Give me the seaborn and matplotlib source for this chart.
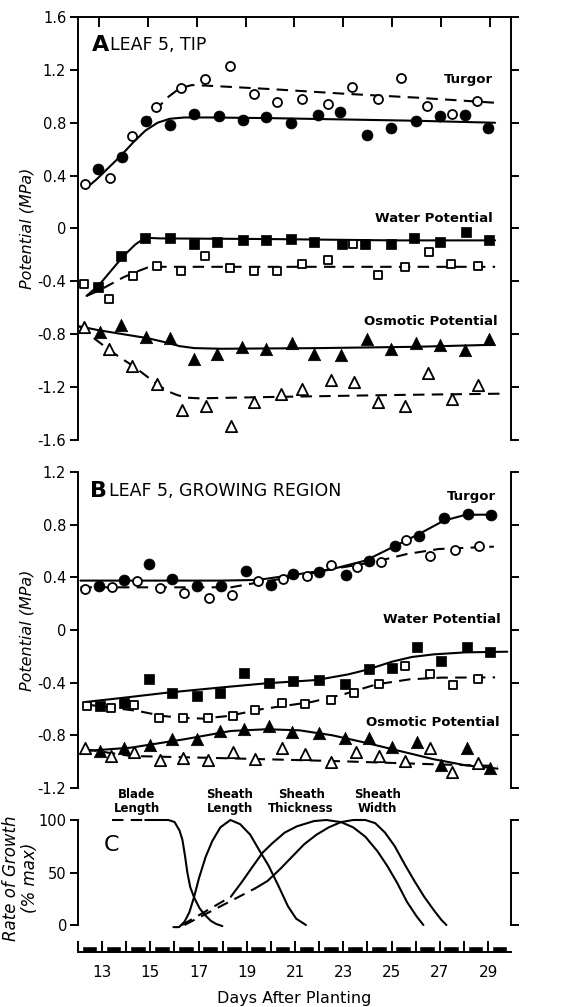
import matplotlib
matplotlib.use('Agg')
import matplotlib.pyplot as plt
from matplotlib.ticker import FixedLocator
import seaborn as sns

# ---------------- Panel A : leaf 5, tip ----------------
a_turgor_fill_x = [12.95, 13.95, 14.95, 15.9, 16.9, 17.9, 18.9, 19.85, 20.85, 21.95, 22.85, 23.95, 24.95, 25.95, 26.95, 27.95, 28.9]
a_turgor_fill_y = [0.45, 0.54, 0.81, 0.78, 0.87, 0.85, 0.82, 0.84, 0.80, 0.86, 0.88, 0.71, 0.76, 0.81, 0.85, 0.86, 0.76]
a_turgor_open_x = [12.45, 13.45, 14.35, 15.35, 16.35, 17.35, 18.35, 19.35, 20.3, 21.3, 22.35, 23.35, 24.4, 25.35, 26.4, 27.45, 28.45]
a_turgor_open_y = [0.34, 0.38, 0.70, 0.92, 1.06, 1.13, 1.23, 1.02, 0.96, 0.98, 0.945, 1.07, 0.98, 1.14, 0.93, 0.865, 0.965]

a_water_fill_x = [12.95, 13.9, 14.9, 15.9, 16.9, 17.85, 18.9, 19.85, 20.85, 21.8, 22.95, 23.9, 24.95, 25.9, 26.95, 28.0, 28.95]
a_water_fill_y = [-0.44, -0.21, -0.07, -0.07, -0.115, -0.10, -0.09, -0.09, -0.08, -0.10, -0.115, -0.115, -0.115, -0.075, -0.10, -0.03, -0.09]
a_water_open_x = [12.4, 13.4, 14.4, 15.4, 16.35, 17.35, 18.35, 19.35, 20.3, 21.3, 22.35, 23.4, 24.4, 25.5, 26.5, 27.4, 28.5]
a_water_open_y = [-0.42, -0.53, -0.36, -0.285, -0.32, -0.21, -0.30, -0.32, -0.32, -0.27, -0.235, -0.115, -0.355, -0.295, -0.18, -0.27, -0.285]

a_osm_fill_x = [13.05, 13.9, 14.95, 15.9, 16.9, 17.85, 18.85, 19.85, 20.9, 21.8, 22.9, 23.95, 24.95, 25.95, 26.95, 27.95, 28.95]
a_osm_fill_y = [-0.78, -0.73, -0.82, -0.83, -0.985, -0.95, -0.90, -0.91, -0.87, -0.95, -0.96, -0.835, -0.91, -0.865, -0.88, -0.92, -0.835]
a_osm_open_x = [12.4, 13.4, 14.35, 15.4, 16.4, 17.4, 18.4, 19.35, 20.45, 21.3, 22.5, 23.45, 24.4, 25.5, 26.45, 27.45, 28.5]
a_osm_open_y = [-0.745, -0.915, -1.04, -1.18, -1.375, -1.34, -1.495, -1.31, -1.25, -1.215, -1.15, -1.16, -1.31, -1.34, -1.09, -1.29, -1.185]

# fitted curves, panel A
a_turgor_fit_x = [12.45, 12.9, 13.4, 13.9, 14.4, 14.9, 15.4, 15.9, 16.5, 17.5, 20.0, 23.0, 26.0, 29.2]
a_turgor_fit_y = [0.30, 0.37, 0.46, 0.55, 0.65, 0.74, 0.80, 0.83, 0.84, 0.84, 0.835, 0.825, 0.815, 0.80]
a_turgor_fit2_x = [14.8, 15.3, 15.8, 16.3, 16.8, 17.5, 20.0, 23.0, 26.0, 29.3]
a_turgor_fit2_y = [0.78, 0.89, 0.99, 1.06, 1.085, 1.08, 1.055, 1.02, 0.99, 0.95]
a_water_fit_x = [12.5, 13.0, 13.5, 14.0, 14.5, 14.9, 15.5, 20.0, 25.0, 29.2]
a_water_fit_y = [-0.51, -0.43, -0.32, -0.21, -0.12, -0.07, -0.075, -0.08, -0.09, -0.09]
a_water_fit2_x = [12.5, 13.0, 13.5, 14.0, 14.5, 15.0, 15.5, 20.0, 25.0, 29.2]
a_water_fit2_y = [-0.51, -0.47, -0.42, -0.37, -0.33, -0.295, -0.29, -0.29, -0.29, -0.29]
a_osm_fit_x = [12.2, 13.0, 14.0, 15.0, 15.7, 16.3, 16.9, 18.0, 22.0, 26.0, 29.1]
a_osm_fit_y = [-0.74, -0.77, -0.80, -0.83, -0.86, -0.89, -0.905, -0.91, -0.905, -0.895, -0.88]
a_osm_fit2_x = [12.2, 12.8, 13.4, 13.9, 14.4, 14.9, 15.4, 15.8, 16.2, 16.6, 17.1, 20.0, 25.0, 29.4]
a_osm_fit2_y = [-0.74, -0.83, -0.915, -0.98, -1.04, -1.11, -1.18, -1.23, -1.26, -1.28, -1.285, -1.275, -1.26, -1.25]

# ---------------- Panel B : leaf 5, growing region ----------------
b_turgor_fill_x = [13.0, 14.05, 15.05, 16.0, 17.0, 18.0, 19.0, 20.05, 20.95, 22.0, 23.1, 24.05, 25.1, 26.1, 27.1, 28.1, 29.05]
b_turgor_fill_y = [0.337, 0.38, 0.50, 0.387, 0.337, 0.337, 0.45, 0.344, 0.425, 0.438, 0.418, 0.527, 0.64, 0.716, 0.85, 0.88, 0.876]
b_turgor_open_x = [12.45, 13.55, 14.55, 15.5, 16.5, 17.5, 18.45, 19.5, 20.55, 21.5, 22.5, 23.55, 24.55, 25.55, 26.55, 27.55, 28.55]
b_turgor_open_y = [0.315, 0.33, 0.375, 0.32, 0.28, 0.245, 0.265, 0.375, 0.39, 0.41, 0.49, 0.475, 0.515, 0.68, 0.565, 0.61, 0.64]

b_water_fill_x = [13.05, 14.05, 15.05, 16.0, 17.0, 17.95, 18.95, 19.95, 20.95, 22.0, 23.05, 24.05, 25.0, 26.0, 27.0, 28.05, 29.0]
b_water_fill_y = [-0.577, -0.552, -0.37, -0.476, -0.50, -0.476, -0.33, -0.40, -0.39, -0.382, -0.41, -0.30, -0.286, -0.13, -0.233, -0.13, -0.17]
b_water_open_x = [12.5, 13.5, 14.45, 15.45, 16.45, 17.45, 18.5, 19.4, 20.5, 21.45, 22.5, 23.45, 24.45, 25.5, 26.55, 27.5, 28.5]
b_water_open_y = [-0.577, -0.59, -0.572, -0.666, -0.666, -0.666, -0.653, -0.608, -0.552, -0.565, -0.532, -0.476, -0.41, -0.275, -0.337, -0.42, -0.375]

b_osm_fill_x = [13.05, 14.05, 15.1, 16.0, 17.0, 17.95, 18.95, 19.95, 20.9, 22.0, 23.05, 24.05, 25.0, 26.0, 27.0, 28.05, 29.0]
b_osm_fill_y = [-0.92, -0.90, -0.87, -0.83, -0.825, -0.767, -0.755, -0.73, -0.775, -0.785, -0.818, -0.818, -0.886, -0.85, -1.028, -0.894, -1.045]
b_osm_open_x = [12.45, 13.5, 14.45, 15.5, 16.45, 17.45, 18.5, 19.4, 20.5, 21.45, 22.5, 23.5, 24.45, 25.5, 26.55, 27.45, 28.5]
b_osm_open_y = [-0.90, -0.957, -0.93, -0.99, -0.975, -0.99, -0.927, -0.98, -0.90, -0.94, -1.0, -0.93, -0.96, -0.995, -0.894, -1.08, -1.01]

# fitted curves, panel B
b_turgor_fit_x = [12.25, 14.0, 16.0, 18.0, 19.5, 21.2, 22.55, 23.9, 25.0, 26.1, 27.1, 28.0, 29.15]
b_turgor_fit_y = [0.375, 0.375, 0.375, 0.375, 0.38, 0.425, 0.463, 0.527, 0.628, 0.73, 0.83, 0.875, 0.876]
b_turgor_fit2_x = [12.25, 14.0, 16.0, 18.4, 19.5, 21.2, 22.55, 24.2, 25.6, 26.9, 29.15]
b_turgor_fit2_y = [0.324, 0.324, 0.324, 0.324, 0.36, 0.41, 0.463, 0.514, 0.577, 0.615, 0.633]
b_water_fit_x = [12.45, 14.0, 15.8, 17.8, 19.85, 21.9, 23.2, 24.0, 25.0, 25.8, 26.7, 28.0, 29.7]
b_water_fit_y = [-0.547, -0.515, -0.476, -0.44, -0.405, -0.38, -0.337, -0.30, -0.24, -0.205, -0.185, -0.17, -0.165]
b_water_fit2_x = [12.45, 13.5, 14.6, 15.6, 16.5, 17.25, 18.3, 19.7, 21.7, 23.0, 24.35, 25.7, 27.0, 29.2]
b_water_fit2_y = [-0.565, -0.59, -0.615, -0.653, -0.668, -0.673, -0.653, -0.60, -0.547, -0.489, -0.413, -0.375, -0.362, -0.36]
b_osm_fit_x = [12.45, 14.3, 16.5, 18.4, 19.85, 21.2, 22.55, 23.9, 25.3, 26.7, 28.0, 29.3]
b_osm_fit_y = [-0.919, -0.894, -0.83, -0.767, -0.754, -0.762, -0.80, -0.856, -0.919, -0.982, -1.028, -1.053]
b_osm_fit2_x = [12.45, 14.3, 18.4, 22.55, 26.7, 29.3]
b_osm_fit2_y = [-0.906, -0.957, -0.975, -0.995, -1.02, -1.033]

# ---------------- Panel C : rate of growth (% max) ----------------
blade_dash_x = [13.55, 14.9]
blade_dash_y = [100, 100]
blade_x = [14.9, 15.85, 16.1, 16.3, 16.42, 16.53, 16.62, 16.74, 16.9, 17.12, 17.32, 17.58, 17.8, 18.05]
blade_y = [100, 100, 98, 90, 81, 65, 50, 36, 26, 16, 10, 4, 1, -1]
sheath_len_x = [16.05, 16.28, 16.5, 16.7, 16.9, 17.1, 17.37, 17.64, 17.97, 18.38, 18.78, 19.19, 19.59, 19.93, 20.33, 20.73, 21.07, 21.47]
sheath_len_y = [-2, -2, 3, 12, 27, 45, 65, 80, 93, 100, 96, 86, 70, 57, 38, 18, 6, 0]
sheath_thick_dash_x = [16.4, 18.4]
sheath_thick_dash_y = [0, 27]
sheath_thick_x = [18.4, 18.88, 19.3, 19.7, 20.1, 20.6, 21.1, 21.8, 22.3, 22.9, 23.4, 23.9, 24.4, 24.8, 25.2, 25.6, 26.0, 26.27]
sheath_thick_y = [27, 42, 56, 69, 78, 88, 94, 99, 100, 98, 93, 84, 70, 56, 40, 22, 8, 0]
sheath_width_dash_x = [16.5, 19.4]
sheath_width_dash_y = [0, 35]
sheath_width_x = [19.4, 19.9, 20.4, 20.9, 21.4, 21.9, 22.4, 22.9, 23.4, 23.9, 24.3, 24.7, 25.1, 25.5, 25.9, 26.3, 26.7, 27.0, 27.21]
sheath_width_y = [35, 42, 53, 65, 77, 86, 93, 98, 100, 100, 97, 88, 75, 58, 42, 27, 14, 5, 0]

growth_labels = ['Blade\nLength', 'Sheath\nLength', 'Sheath\nThickness', 'Sheath\nWidth']
growth_label_x = [14.55, 18.35, 21.27, 24.38]

day_ticks = list(range(12, 30))
day_labels = [str(d) if d % 2 == 1 else '' for d in day_ticks]
night_days = list(range(12, 30))

# ---------------- style ----------------
sns.set_style('white')
plt.rcParams['font.family'] = ['DejaVu Sans']
plt.rcParams['axes.linewidth'] = 1.4
plt.rcParams['axes.edgecolor'] = 'black'
plt.rcParams['text.color'] = 'black'
plt.rcParams['axes.labelcolor'] = 'black'
plt.rcParams['xtick.color'] = 'black'
plt.rcParams['ytick.color'] = 'black'
plt.rcParams['xtick.major.width'] = 1.4
plt.rcParams['ytick.major.width'] = 1.4

fig = plt.figure(figsize=(5.66, 10.07), dpi=100)
left, width = 0.1378, 0.765
ax_a = fig.add_axes([left, 0.5631, width, 0.4200])
ax_b = fig.add_axes([left, 0.2175, width, 0.3138])
ax_c = fig.add_axes([left, 0.0814, width, 0.1043])
ax_t = fig.add_axes([left, 0.0546, width, 0.010])

XLIM = (12.15, 29.85)
DASH = (0, (5.5, 3.5))
LW = 1.5
LABEL_FS = 9.5
TICK_FS = 10.5


def fit_line(ax, x, y, dashed=False):
    sns.lineplot(x=x, y=y, ax=ax, color='black', linewidth=LW, estimator=None, sort=False,
                 linestyle=DASH if dashed else '-')
    for ln in ax.lines:
        ln.set_clip_on(False)


def points(ax, x, y, marker, size, filled):
    if filled:
        sns.scatterplot(x=x, y=y, ax=ax, marker=marker, s=size, color='black',
                        edgecolor='black', linewidth=0.5, zorder=4, clip_on=False)
    else:
        sns.scatterplot(x=x, y=y, ax=ax, marker=marker, s=size, color='white',
                        edgecolor='black', linewidth=1.3, zorder=4, clip_on=False)


def style_potential_axis(ax, ylim, yticks, ylabels, top=False):
    ax.set_xlim(*XLIM)
    ax.set_ylim(*ylim)
    ax.set_yticks(yticks)
    ax.set_yticklabels(ylabels, fontsize=TICK_FS)
    ax.yaxis.set_minor_locator(FixedLocator([ylim[0], ylim[1]]))
    ax.tick_params(axis='y', which='major', direction='out', length=6, left=True, right=True, pad=2.5)
    ax.tick_params(axis='y', which='minor', direction='in', length=6, width=1.4, left=True, right=True)
    ax.spines['left'].set_visible(True)
    ax.spines['right'].set_visible(True)
    ax.spines['bottom'].set_visible(False)
    ax.spines['top'].set_visible(top)
    if top:
        ax.set_xticks(list(range(13, 30, 2)))
        ax.tick_params(axis='x', which='major', direction='in', length=7, top=True, bottom=False,
                       labeltop=False, labelbottom=False)
    else:
        ax.set_xticks([])
    ax.set_xlabel('')
    ax.set_ylabel('Potential (MPa)', fontsize=11.5, style='italic')
    ax.yaxis.set_label_coords(-0.1, 0.5)


# ---- panel A ----
points(ax_a, a_turgor_fill_x, a_turgor_fill_y, 'o', 62, True)
points(ax_a, a_turgor_open_x, a_turgor_open_y, 'o', 42, False)
points(ax_a, a_water_fill_x, a_water_fill_y, 's', 52, True)
points(ax_a, a_water_open_x, a_water_open_y, 's', 36, False)
points(ax_a, a_osm_fill_x, a_osm_fill_y, '^', 80, True)
points(ax_a, a_osm_open_x, a_osm_open_y, '^', 66, False)
fit_line(ax_a, a_turgor_fit_x, a_turgor_fit_y)
fit_line(ax_a, a_turgor_fit2_x, a_turgor_fit2_y, dashed=True)
fit_line(ax_a, a_water_fit_x, a_water_fit_y)
fit_line(ax_a, a_water_fit2_x, a_water_fit2_y, dashed=True)
fit_line(ax_a, a_osm_fit_x, a_osm_fit_y)
fit_line(ax_a, a_osm_fit2_x, a_osm_fit2_y, dashed=True)
style_potential_axis(ax_a, (-1.6, 1.6), [-1.6, -1.2, -0.8, -0.4, 0, 0.4, 0.8, 1.2, 1.6],
                     ['-1.6', '-1.2', '-0.8', '-0.4', '0', '0.4', '0.8', '1.2', '1.6'], top=True)
ax_a.text(12.72, 1.39, 'A', fontsize=16, fontweight='bold', va='center', ha='left')
ax_a.text(13.45, 1.39, 'LEAF 5, TIP', fontsize=12.5, va='center', ha='left')
ax_a.text(29.1, 1.13, 'Turgor', fontsize=LABEL_FS, fontweight='bold', va='center', ha='right')
ax_a.text(29.1, 0.075, 'Water Potential', fontsize=LABEL_FS, fontweight='bold', va='center', ha='right')
ax_a.text(29.3, -0.705, 'Osmotic Potential', fontsize=LABEL_FS, fontweight='bold', va='center', ha='right')

# ---- panel B ----
points(ax_b, b_turgor_fill_x, b_turgor_fill_y, 'o', 62, True)
points(ax_b, b_turgor_open_x, b_turgor_open_y, 'o', 42, False)
points(ax_b, b_water_fill_x, b_water_fill_y, 's', 52, True)
points(ax_b, b_water_open_x, b_water_open_y, 's', 36, False)
points(ax_b, b_osm_fill_x, b_osm_fill_y, '^', 80, True)
points(ax_b, b_osm_open_x, b_osm_open_y, '^', 66, False)
fit_line(ax_b, b_turgor_fit_x, b_turgor_fit_y)
fit_line(ax_b, b_turgor_fit2_x, b_turgor_fit2_y, dashed=True)
fit_line(ax_b, b_water_fit_x, b_water_fit_y)
fit_line(ax_b, b_water_fit2_x, b_water_fit2_y, dashed=True)
fit_line(ax_b, b_osm_fit_x, b_osm_fit_y)
fit_line(ax_b, b_osm_fit2_x, b_osm_fit2_y, dashed=True)
style_potential_axis(ax_b, (-1.2, 1.2), [-1.2, -0.8, -0.4, 0, 0.4, 0.8, 1.2],
                     ['-1.2', '-0.8', '-0.4', '0', '0.4', '0.8', '1.2'])
ax_b.text(12.66, 1.058, 'B', fontsize=16, fontweight='bold', va='center', ha='left')
ax_b.text(13.4, 1.058, 'LEAF 5, GROWING REGION', fontsize=12.5, va='center', ha='left')
ax_b.text(29.25, 1.01, 'Turgor', fontsize=LABEL_FS, fontweight='bold', va='center', ha='right')
ax_b.text(29.45, 0.076, 'Water Potential', fontsize=LABEL_FS, fontweight='bold', va='center', ha='right')
ax_b.text(29.4, -0.70, 'Osmotic Potential', fontsize=LABEL_FS, fontweight='bold', va='center', ha='right')

# ---- panel C ----
fit_line(ax_c, blade_dash_x, blade_dash_y, dashed=True)
fit_line(ax_c, blade_x, blade_y)
fit_line(ax_c, sheath_len_x, sheath_len_y)
fit_line(ax_c, sheath_thick_dash_x, sheath_thick_dash_y, dashed=True)
fit_line(ax_c, sheath_thick_x, sheath_thick_y)
fit_line(ax_c, sheath_width_dash_x, sheath_width_dash_y, dashed=True)
fit_line(ax_c, sheath_width_x, sheath_width_y)
ax_c.set_xlim(*XLIM)
ax_c.set_ylim(0, 100)
ax_c.set_yticks([0, 50, 100])
ax_c.set_yticklabels(['0', '50', '100'], fontsize=TICK_FS)
ax_c.yaxis.set_minor_locator(FixedLocator([0, 100]))
ax_c.tick_params(axis='y', which='major', direction='out', length=6, left=True, right=True, pad=2)
ax_c.tick_params(axis='y', which='minor', direction='in', length=6, width=1.4, left=True, right=True)
ax_c.spines['left'].set_visible(True)
ax_c.spines['right'].set_visible(True)
ax_c.spines['bottom'].set_visible(False)
ax_c.spines['top'].set_visible(False)
ax_c.set_xticks([])
ax_c.set_xlabel('')
ax_c.set_ylabel('Rate of Growth\n(% max)', fontsize=12, style='italic', linespacing=1.1)
ax_c.yaxis.set_label_coords(-0.09, 0.45)
ax_c.text(13.2, 76, 'C', fontsize=16, va='center', ha='left')
for lab, lx in zip(growth_labels, growth_label_x):
    ax_c.text(lx, 118, lab, fontsize=8.5, fontweight='bold', ha='center', va='center',
              linespacing=1.1, clip_on=False)

# ---- time axis with dark periods ----
ax_t.set_xlim(XLIM[0], 29.95)
ax_t.set_ylim(0, 1)
ax_t.broken_barh([(d + 0.15, 0.65) for d in night_days], (0, 0.6), facecolor='black', clip_on=True)
for s in ['left', 'right', 'top']:
    ax_t.spines[s].set_visible(False)
ax_t.spines['bottom'].set_visible(True)
ax_t.set_yticks([])
ax_t.set_xticks(day_ticks)
ax_t.set_xticklabels(day_labels, fontsize=TICK_FS + 0.5)
ax_t.tick_params(axis='x', direction='in', length=8, width=1.4, pad=9, bottom=True)
ax_t.set_xlabel('Days After Planting', fontsize=11.5, labelpad=8)

fig.savefig('out.png', dpi=100)
